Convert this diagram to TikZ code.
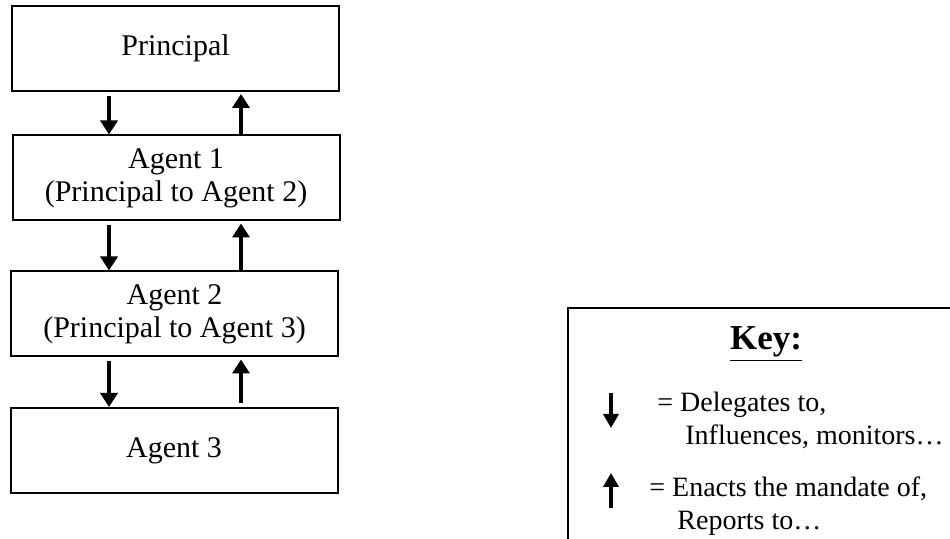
\documentclass[tikz,border=0pt]{standalone}
\usepackage{fontspec}
\setmainfont{Liberation Serif}
\usetikzlibrary{arrows.meta,calc}
\begin{document}
\begin{tikzpicture}[x=0.5pt,y=-0.5pt,
  box/.style={draw,line width=1pt,rectangle,minimum width=163.5pt,minimum height=42.5pt,
    align=center,inner sep=0pt,font=\fontsize{15}{16.5}\selectfont},
  thick arrow/.style={line width=2.3pt,-{Triangle[width=8.5pt,length=7pt]}},
  key arrow/.style={line width=2.2pt,-{Triangle[width=7.5pt,length=7pt]}},
  keytext/.style={anchor=base west,inner sep=0pt,font=\fontsize{14}{16}\selectfont}]
  \useasboundingbox (0,0) rectangle (950,539);
  \clip (0,0) rectangle (950,539);

  % hierarchy of principal and agents
  \node[box] (p)  at (175.5,48.5) {Principal};
  \node[box] (a1) at (176,178) {Agent 1\\(Principal to Agent 2)};
  \node[box] (a2) at (174.5,314) {Agent 2\\(Principal to Agent 3)};
  \node[box] (a3) at (174,450.5) {Agent 3};

  % columns for the downward and upward arrows
  \coordinate (dn) at (109,0);
  \coordinate (up) at (241,0);

  \draw[thick arrow,shorten <=2pt] (p.south -| dn) -- (a1.north -| dn);
  \draw[thick arrow,shorten >=1pt] (a1.north -| up) -- (p.south -| up);
  \draw[thick arrow,shorten <=2pt] (a1.south -| dn) -- (a2.north -| dn);
  \draw[thick arrow,shorten >=1pt] (a2.north -| up) -- (a1.south -| up);
  \draw[thick arrow,shorten <=2pt] (a2.south -| dn) -- (a3.north -| dn);
  \draw[thick arrow,shorten <=2pt,shorten >=1pt] (a3.north -| up) -- (a2.south -| up);

  % key box, running off the right and bottom edges
  \node[draw,line width=1pt,rectangle,anchor=north west,minimum width=250pt,minimum height=150pt,inner sep=0pt]
    (key) at (567,307) {};
  \node[anchor=base,inner sep=0pt,font=\fontsize{17.5}{20}\selectfont\bfseries] (keytitle) at (766,350) {\underline{Key:}};

  \coordinate (kd1) at (611,393);
  \coordinate (kd2) at (611,428);
  \coordinate (ku1) at (611,508);
  \coordinate (ku2) at (611,473);
  \draw[key arrow] (kd1) -- (kd2);
  \draw[key arrow] (ku1) -- (ku2);

  \node[keytext] (k1) at (657,412) {= Delegates to,};
  \node[keytext] (k2) at (685,445) {Influences, monitors…};
  \node[keytext] (k3) at (649,497) {= Enacts the mandate of,};
  \node[keytext] (k4) at (677,530) {Reports to…};
\end{tikzpicture}
\end{document}
